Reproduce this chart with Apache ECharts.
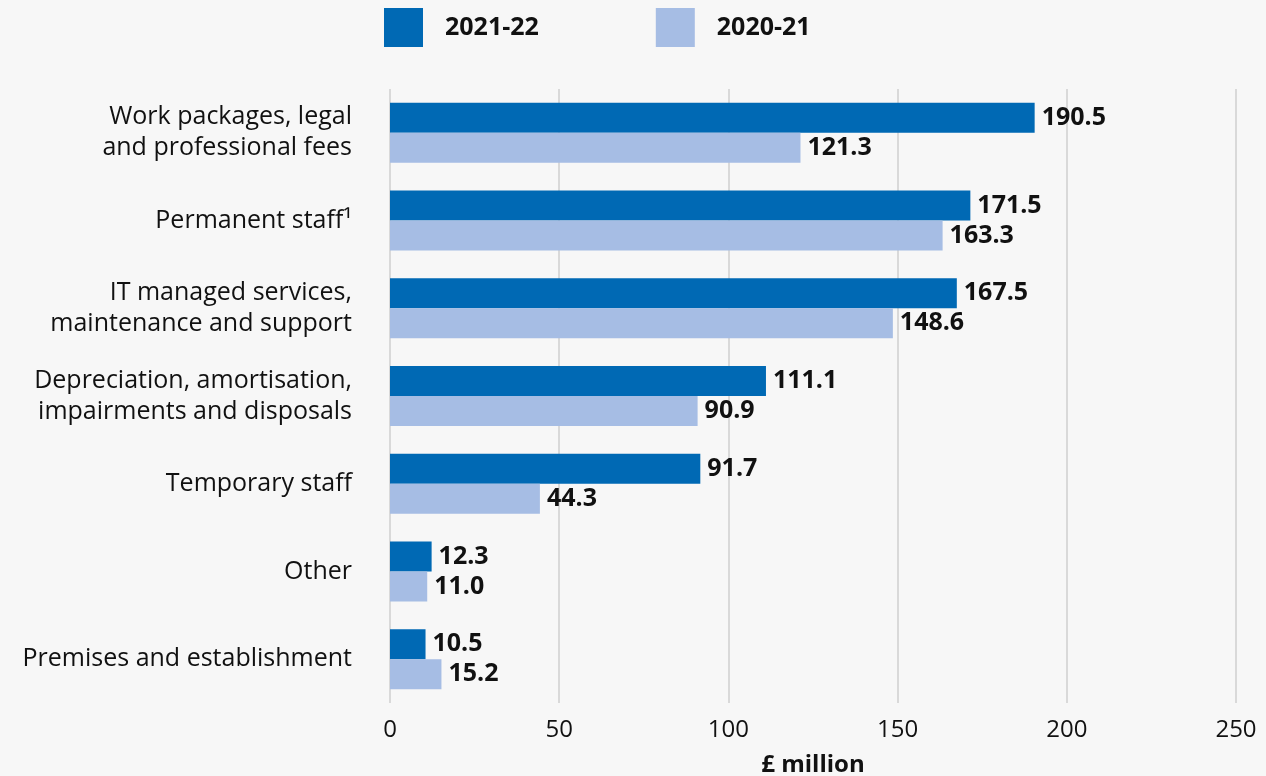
<!DOCTYPE html>
<html>
<head>
<meta charset="utf-8">
<style>
  html, body { margin: 0; padding: 0; background: #f7f7f7; }
  #chart { width: 1266px; height: 776px; }
</style>
<script src="https://cdn.jsdelivr.net/npm/echarts@6/dist/echarts.min.js"></script>
</head>
<body>
<div id="chart"></div>
<script>
// Spending categories, top to bottom
const categories = [
  'Work packages, legal\nand professional fees',
  'Permanent staff¹',
  'IT managed services,\nmaintenance and support',
  'Depreciation, amortisation,\nimpairments and disposals',
  'Temporary staff',
  'Other',
  'Premises and establishment'
];
// £ million by year
const values2122 = [190.5, 171.5, 167.5, 111.1, 91.7, 12.3, 10.5];
const values2021 = [121.3, 163.3, 148.6, 90.9, 44.3, 11.0, 15.2];
const seriesNames = ['2021-22', '2020-21'];
const axisName = '£ million';

const FONT = '"Open Sans", "Noto Sans", sans-serif';
const chart = echarts.init(document.getElementById('chart'));

const valueLabel = {
  show: true,
  position: 'right',
  distance: 7,
  color: '#111',
  fontFamily: FONT,
  fontWeight: 'bold',
  fontSize: 25,
  formatter: p => p.value.toFixed(1)
};

chart.setOption({
  backgroundColor: '#f7f7f7',
  animation: false,
  legend: {
    left: 384,
    top: 8,
    padding: 0,
    itemWidth: 39,
    itemHeight: 39,
    itemGap: 117,
    icon: 'rect',
    textStyle: {
      fontFamily: FONT,
      fontWeight: 'bold',
      fontSize: 25,
      color: '#111',
      padding: [0, 0, 0, 17]
    },
    data: seriesNames
  },
  grid: {
    left: 390, right: 30, top: 89, bottom: 73,
    containLabel: false,
    outerBoundsMode: 'none'
  },
  xAxis: {
    type: 'value',
    min: 0,
    max: 250,
    interval: 50,
    name: axisName,
    nameLocation: 'middle',
    nameGap: 50,
    nameTextStyle: { fontFamily: FONT, fontWeight: 'bold', fontSize: 24, color: '#111' },
    axisLine: { show: false },
    axisTick: { show: false },
    axisLabel: { fontFamily: FONT, fontSize: 24, color: '#111', margin: 15 },
    splitLine: { show: true, lineStyle: { color: '#cfcfcf', width: 1.5 } }
  },
  yAxis: {
    type: 'category',
    inverse: true,
    data: categories,
    axisLine: { show: false },
    axisTick: { show: false },
    axisLabel: {
      fontFamily: FONT,
      fontSize: 25,
      color: '#111',
      margin: 38,
      lineHeight: 31,
      align: 'right'
    }
  },
  series: [
    {
      name: seriesNames[0],
      type: 'bar',
      data: values2122,
      barWidth: 30,
      barGap: '0%',
      itemStyle: { color: '#0069b4' },
      label: valueLabel
    },
    {
      name: seriesNames[1],
      type: 'bar',
      data: values2021,
      barWidth: 30,
      barGap: '0%',
      itemStyle: { color: '#a6bde4' },
      label: valueLabel
    }
  ]
});
</script>
</body>
</html>
